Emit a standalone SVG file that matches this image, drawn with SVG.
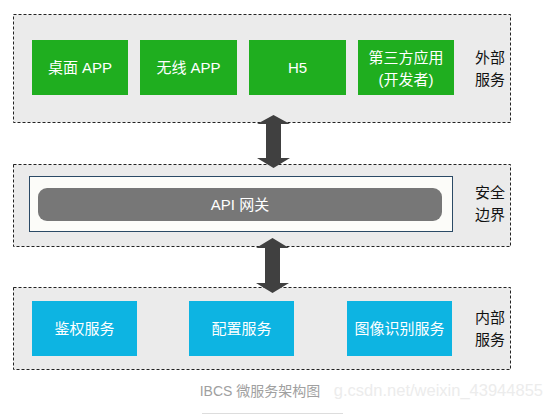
<svg xmlns="http://www.w3.org/2000/svg" width="547" height="414" viewBox="0 0 547 414">
<style>
.panel{fill:#ebebeb;stroke:#222;stroke-width:1;stroke-dasharray:3,2}
.g{fill:#1fae1f}
.b{fill:#0db4e2}
.t{font-family:"Liberation Sans","Noto Sans CJK SC",sans-serif;font-size:15px;fill:#fff;text-anchor:middle}
.lab{font-family:"Noto Sans CJK SC",sans-serif;font-size:15px;fill:#111}
.arrow{fill:#404040}
</style>
<rect width="547" height="414" fill="#fff"/>
<g id="external">
<rect class="panel" x="13.5" y="14.5" width="497" height="108"/>
<text class="lab" x="475" y="63">外部</text>
<text class="lab" x="475" y="85">服务</text>
</g>
<g id="desktop"><rect class="g" x="32" y="40" width="96" height="55"/><text class="t" x="80" y="73">桌面 APP</text></g>
<g id="wireless"><rect class="g" x="140" y="40" width="97" height="55"/><text class="t" x="188.5" y="73">无线 APP</text></g>
<g id="h5"><rect class="g" x="249" y="40" width="97" height="55"/><text class="t" x="297.5" y="73">H5</text></g>
<g id="thirdparty"><rect class="g" x="358" y="40" width="96" height="55"/><text class="t" x="406" y="63">第三方应用</text><text class="t" x="406" y="85">(开发者)</text></g>
<g id="security">
<rect class="panel" x="13.5" y="164.5" width="497" height="82"/>
<rect x="29.5" y="176.5" width="423" height="55" fill="#fcfcf9" stroke="#2b4a66" stroke-width="1"/>
<text class="lab" x="475" y="198">安全</text>
<text class="lab" x="475" y="220">边界</text>
</g>
<g id="gateway"><rect x="38" y="188" width="404" height="33" rx="9" fill="#777"/><text class="t" x="240" y="210">API 网关</text></g>
<g id="internal">
<rect class="panel" x="13.5" y="287.5" width="497" height="82"/>
<text class="lab" x="475" y="323">内部</text>
<text class="lab" x="475" y="345">服务</text>
</g>
<g id="auth"><rect class="b" x="32" y="301" width="105" height="55"/><text class="t" x="84.5" y="334">鉴权服务</text></g>
<g id="config"><rect class="b" x="189" y="301" width="105" height="55"/><text class="t" x="241.5" y="334">配置服务</text></g>
<g id="image"><rect class="b" x="347" y="301" width="105" height="55"/><text class="t" x="399.5" y="334">图像识别服务</text></g>
<g id="connectors">
<polygon class="arrow" points="273.5,115 290,124 281,124 281,158 290,158 273.5,168 257,158 266,158 266,124 257,124"/>
<polygon class="arrow" points="272.5,238 289,248 280,248 280,283 289,283 272.5,293 256,283 265,283 265,248 256,248"/>
</g>
<text x="543" y="396" font-family="Liberation Sans,sans-serif" font-size="16.5" fill="#ececec" text-anchor="end">g.csdn.net/weixin_43944855</text>
<text x="260" y="396" font-family="Liberation Sans,Noto Sans CJK SC,sans-serif" font-size="14" fill="#a0a0a0" text-anchor="middle">IBCS 微服务架构图</text>
<line x1="202" y1="413.5" x2="343" y2="413.5" stroke="#ddd"/>
</svg>
